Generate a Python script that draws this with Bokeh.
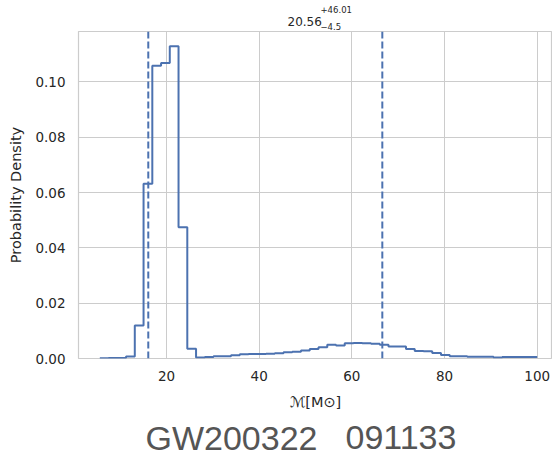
import numpy as np
from bokeh.plotting import figure
from bokeh.layouts import column
from bokeh.models import Span, FixedTicker, PrintfTickFormatter, Range1d
from bokeh.core.properties import value
from bokeh.embed import file_html
from bokeh.resources import INLINE

# ---- data ----
bin_edges = [5.60, 7.49, 9.38, 11.26, 13.15, 15.04, 16.93, 18.82, 20.70, 22.59,
             24.48, 26.37, 28.26, 30.14, 32.03, 33.92, 35.81, 37.70, 39.58, 41.47,
             43.36, 45.25, 47.14, 49.02, 50.91, 52.80, 54.69, 56.58, 58.46, 60.35,
             62.24, 64.13, 66.02, 67.90, 69.79, 71.68, 73.57, 75.46, 77.34, 79.23,
             81.12, 83.01, 84.90, 86.78, 88.67, 90.56, 92.45, 94.34, 96.22, 98.11,
             100.00]
density = [0.0001, 0.0002, 0.0002, 0.0007, 0.0119, 0.0632, 0.1058, 0.1068, 0.1129, 0.0474,
           0.0035, 0.0004, 0.0005, 0.0008, 0.0008, 0.0012, 0.0015, 0.0016, 0.0016, 0.0017,
           0.0019, 0.0023, 0.0024, 0.0029, 0.0034, 0.0041, 0.0050, 0.0047, 0.0055, 0.0056,
           0.0055, 0.0053, 0.0050, 0.0043, 0.0043, 0.0034, 0.0027, 0.0026, 0.0020, 0.0013,
           0.0008, 0.0008, 0.0006, 0.0006, 0.0006, 0.0004, 0.0005, 0.0005, 0.0005, 0.0005]
median = 20.56
err_plus = 46.01
err_minus = 4.5
x_ticks = [20, 40, 60, 80, 100]
y_ticks = [0.00, 0.02, 0.04, 0.06, 0.08, 0.10]
event_name_parts = ["GW200322", "091133"]
x_label = "\u2133[M\u2299]"
y_label = "Probability Density"
title_main = "20.56"
title_sup = "+46.01"
title_sub = "\u22124.5"

BLUE = "#4c72b0"
GRID = "#cccccc"
TXT = "#262626"
FONT = "DejaVu Sans"
W = 552
LEFT = 78


def blank_fig(h):
    # frame aligned with the main plot's frame (x from LEFT to W); data coords == canvas pixels
    f = figure(width=W, height=h, output_backend="svg", toolbar_location=None,
               x_range=Range1d(LEFT, W), y_range=Range1d(0, h),
               x_axis_location=None, y_axis_location=None,
               min_border_left=LEFT, min_border_right=0,
               min_border_top=0, min_border_bottom=0)
    f.grid.visible = False
    f.outline_line_color = None
    f.background_fill_color = "white"
    f.border_fill_color = "white"
    return f


# ---- title strip (pixel coordinates, y up) ----
top = blank_fig(31)
top.text(x=[287], y=[10], text=[title_main], text_font=value(FONT), text_font_size="12px",
         text_color=TXT, text_align="left", text_baseline="alphabetic")
top.text(x=[320], y=[22], text=[title_sup], text_font=value(FONT), text_font_size="8.5px",
         text_color=TXT, text_align="left", text_baseline="alphabetic")
top.text(x=[320], y=[5], text=[title_sub], text_font=value(FONT), text_font_size="8.5px",
         text_color=TXT, text_align="left", text_baseline="alphabetic")

# ---- main plot ----
p = figure(width=W, height=385, output_backend="svg", toolbar_location=None,
           x_range=Range1d(1.0, 103.3), y_range=Range1d(0, 0.1182),
           min_border_left=LEFT, min_border_right=0, min_border_top=0, min_border_bottom=58)
p.background_fill_color = "white"
p.border_fill_color = "white"
p.outline_line_color = GRID
p.outline_line_width = 1.2

xs = list(bin_edges)
ys = list(density) + [density[-1]]
p.step(xs, ys, mode="after", line_color=BLUE, line_width=2)

for loc in (median - err_minus, median + err_plus):
    p.add_layout(Span(location=loc, dimension="height", line_color=BLUE,
                      line_width=2, line_dash="7 3"))

for ax in (p.xaxis[0], p.yaxis[0]):
    ax.axis_line_color = None
    ax.major_tick_line_color = None
    ax.minor_tick_line_color = None
    ax.major_tick_out = 0
    ax.major_tick_in = 0
    ax.major_label_text_font = FONT
    ax.major_label_text_font_size = "13.5px"
    ax.major_label_text_color = TXT
    ax.axis_label_text_font = FONT
    ax.axis_label_text_font_size = "14.5px"
    ax.axis_label_text_font_style = "normal"
    ax.axis_label_text_color = TXT

p.xaxis.ticker = FixedTicker(ticks=x_ticks)
p.yaxis.ticker = FixedTicker(ticks=y_ticks)
p.yaxis.formatter = PrintfTickFormatter(format="%.2f")
p.xaxis.axis_label = x_label
p.yaxis.axis_label = y_label
p.xaxis.major_label_standoff = 12
p.xaxis.axis_label_standoff = 10
p.yaxis.major_label_standoff = 13
p.yaxis.axis_label_standoff = 8

p.xgrid.grid_line_color = GRID
p.ygrid.grid_line_color = GRID
p.xgrid.grid_line_width = 1
p.ygrid.grid_line_width = 1

# ---- event name strip ----
bottom = blank_fig(42)
bottom.text(x=[145, 345], y=[21, 21], text=event_name_parts, text_font=value("Liberation Sans"),
            text_font_size="34px", text_color="#555555", text_align="left",
            text_baseline="alphabetic")

layout = column(top, p, bottom, spacing=0)
open("out.html", "w").write(file_html(layout, INLINE))
